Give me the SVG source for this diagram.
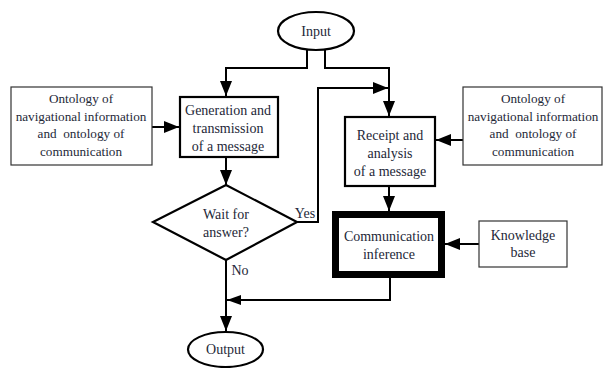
<svg xmlns="http://www.w3.org/2000/svg" width="605" height="368" viewBox="0 0 605 368">
<defs>
<marker id="arr" viewBox="0 0 15 12" refX="15" refY="6" markerWidth="15" markerHeight="12" orient="auto" markerUnits="userSpaceOnUse">
<path d="M0,0 L15,6 L0,12 z" fill="#000"/>
</marker>
<marker id="arrs" viewBox="0 0 14 10" refX="14" refY="5" markerWidth="14" markerHeight="10" orient="auto" markerUnits="userSpaceOnUse">
<path d="M0,0 L14,5 L0,10 z" fill="#000"/>
</marker>
<style>
.t{font-size:14px;fill:#1e2838;text-anchor:middle}
.s{font-size:13.2px}
.thin{fill:#fff;stroke:#333;stroke-width:1.2}
.med{fill:#fff;stroke:#000;stroke-width:2.2}
.c{fill:none;stroke:#000;stroke-width:2}
</style>
</defs>
<rect width="605" height="368" fill="#fff"/>
<g id="connectors">
<polyline class="c" points="307,49 307,68 226,68 226,96" marker-end="url(#arr)"/>
<polyline class="c" points="325,49 325,68 389,68 389,116" marker-end="url(#arr)"/>
<polyline class="c" points="297,222 318,222 318,88 388,88" marker-end="url(#arr)"/>
<line class="c" x1="152" y1="127" x2="179" y2="127" marker-end="url(#arr)"/>
<line class="c" x1="463" y1="140" x2="436" y2="140" marker-end="url(#arr)"/>
<line class="c" x1="226" y1="157" x2="226" y2="185" marker-end="url(#arr)"/>
<line class="c" x1="389" y1="186" x2="389" y2="211" marker-end="url(#arr)"/>
<line class="c" x1="479" y1="244" x2="445" y2="244" marker-end="url(#arr)"/>
<line class="c" x1="226" y1="260" x2="226" y2="331" marker-end="url(#arr)"/>
<polyline class="c" points="390,278 390,300 227,300" marker-end="url(#arrs)"/>
</g>
<g font-family="Liberation Serif, Times New Roman, serif">
<g id="input">
<ellipse cx="316" cy="31" rx="38" ry="19" class="med"/>
<text class="t" x="316" y="36">Input</text>
</g>
<g id="ontology-left">
<rect x="11" y="87" width="141" height="78" class="thin"/>
<text class="t s" x="81" y="103">Ontology of</text>
<text class="t s" x="81" y="121">navigational information</text>
<text class="t s" x="81" y="138">and&#160; ontology of</text>
<text class="t s" x="81" y="156">communication</text>
</g>
<g id="generation">
<rect x="180" y="97" width="98" height="60" class="med"/>
<text class="t" x="228" y="115">Generation and</text>
<text class="t" x="228" y="133">transmission</text>
<text class="t" x="228" y="151">of a message</text>
</g>
<g id="ontology-right">
<rect x="463" y="87" width="139" height="78" class="thin"/>
<text class="t s" x="533" y="103">Ontology of</text>
<text class="t s" x="533" y="121">navigational information</text>
<text class="t s" x="533" y="138">and&#160; ontology of</text>
<text class="t s" x="533" y="156">communication</text>
</g>
<g id="receipt">
<rect x="345" y="117" width="90" height="69" class="med"/>
<text class="t" x="390" y="140">Receipt and</text>
<text class="t" x="390" y="158">analysis</text>
<text class="t" x="390" y="176">of a message</text>
</g>
<g id="decision">
<polygon points="226,185 297,222 226,260 153,222" class="med"/>
<text class="t" x="226" y="219">Wait for</text>
<text class="t" x="226" y="237">answer?</text>
</g>
<g id="labels">
<text class="t" x="305" y="218">Yes</text>
<text class="t" x="240" y="275">No</text>
</g>
<g id="inference">
<rect x="335.5" y="214.5" width="106" height="60" fill="#fff" stroke="#000" stroke-width="7"/>
<text class="t" x="389" y="241">Communication</text>
<text class="t" x="389" y="259">inference</text>
</g>
<g id="knowledge">
<rect x="479" y="221" width="88" height="46" class="thin"/>
<text class="t" x="523" y="240">Knowledge</text>
<text class="t" x="523" y="257">base</text>
</g>
<g id="output">
<ellipse cx="225.5" cy="349.5" rx="37.5" ry="17.5" class="med"/>
<text class="t" x="225.5" y="354">Output</text>
</g>
</g>
</svg>
